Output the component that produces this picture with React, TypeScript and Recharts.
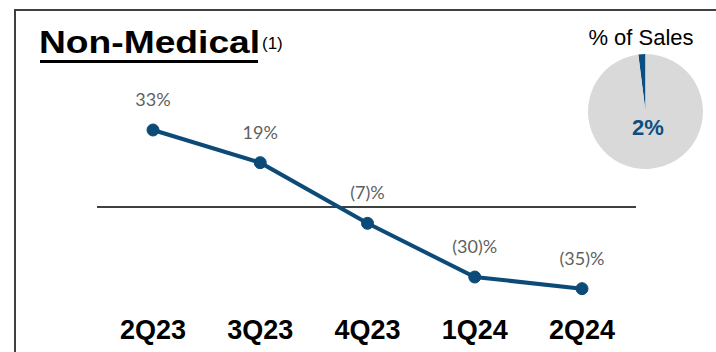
import { LineChart, Line, XAxis, YAxis, ReferenceLine, LabelList, PieChart, Pie, Cell } from 'recharts';

const quarters = ['2Q23', '3Q23', '4Q23', '1Q24', '2Q24'];
const growth = [33, 19, -7, -30, -35];
const salesShare = [
    { name: 'Non-Medical', value: 2 },
    { name: 'Other', value: 98 },
];

const BLUE = '#0c4a78';
const ARIAL = '"Liberation Sans", Arial, sans-serif';

const rows = quarters.map((q, i) => ({ quarter: q, growth: growth[i] }));

const fmtPct = (v: number) => (v < 0 ? `(${-v})%` : `${v}%`);

export default function App() {
    return (
        <div style={{ position: 'absolute', left: 0, top: 0, width: 716, height: 352, overflow: 'hidden', background: '#fff' }}>
            {/* frame */}
            <div style={{ position: 'absolute', left: 14, top: 9, width: 760, height: 400, borderLeft: '2px solid #404040', borderTop: '2px solid #404040' }} />

            <div style={{ position: 'absolute', left: 0, top: 0 }}>
                <LineChart width={716} height={352} data={rows} margin={{ top: 102, right: 80, bottom: 10, left: 97 }}>
                    <XAxis
                        dataKey="quarter"
                        axisLine={false}
                        tickLine={false}
                        height={30}
                        tickMargin={2}
                        padding={{ left: 56, right: 54 }}
                        tick={{ fontSize: 27, fontWeight: 700, fill: '#000', fontFamily: ARIAL }}
                    />
                    <YAxis hide domain={[-45, 45]} />
                    <ReferenceLine y={0} stroke="#404040" strokeWidth={2} />
                    <Line
                        dataKey="growth"
                        stroke={BLUE}
                        strokeWidth={4}
                        dot={{ r: 6, fill: BLUE, stroke: BLUE, strokeWidth: 1 }}
                        isAnimationActive={false}
                    >
                        <LabelList
                            dataKey="growth"
                            position="top"
                            offset={24}
                            formatter={(v: any) => fmtPct(Number(v))}
                            style={{ fontSize: 18, fill: '#5f5f5f', fontFamily: 'Lato, sans-serif' }}
                        />
                    </Line>
                </LineChart>
            </div>

            <div style={{ position: 'absolute', left: 575, top: 41 }}>
                <PieChart width={131} height={131}>
                    <Pie
                        data={salesShare}
                        dataKey="value"
                        cx={65.5}
                        cy={65.5}
                        outerRadius={57.5}
                        startAngle={90}
                        endAngle={450}
                        stroke="none"
                        isAnimationActive={false}
                    >
                        <Cell fill="#0b4f82" />
                        <Cell fill="#d9d9d9" />
                    </Pie>
                </PieChart>
            </div>

            <svg width={716} height={352} style={{ position: 'absolute', left: 0, top: 0, pointerEvents: 'none' }}>
                <g transform="translate(39,53) scale(1.2,1)">
                    <text x={0} y={0} fontFamily={ARIAL} fontWeight={700} fontSize={31} fill="#000">
                        Non-Medical
                    </text>
                </g>
                <rect x={40} y={60} width={218} height={3} fill="#000" />
                <text x={262} y={49} fontFamily={ARIAL} fontSize={17} fill="#000">(1)</text>
                <text x={641} y={45} fontFamily={ARIAL} fontSize={22} textAnchor="middle" fill="#000">% of Sales</text>
                <text x={648} y={135} fontFamily={ARIAL} fontSize={22} fontWeight={700} textAnchor="middle" fill="#0b4f82">2%</text>
            </svg>
        </div>
    );
}
